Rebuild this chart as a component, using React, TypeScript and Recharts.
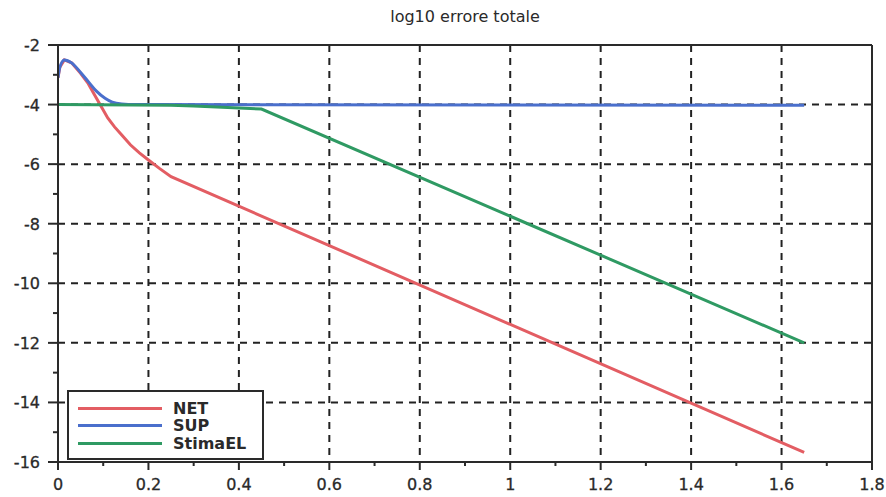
import React from "react";
import { LineChart, Line, XAxis, YAxis, CartesianGrid, ReferenceLine } from "recharts";

const netX = [0, 0.004, 0.014, 0.03, 0.05, 0.067, 0.08, 0.093, 0.11, 0.125, 0.141, 0.16, 0.18, 0.2, 0.225, 0.25, 1.65];
const netY = [-3.1, -2.75, -2.5, -2.6, -2.95, -3.3, -3.65, -4.0, -4.45, -4.75, -5.02, -5.35, -5.62, -5.86, -6.15, -6.42, -15.68];

const supX = [0, 0.004, 0.014, 0.03, 0.05, 0.067, 0.085, 0.104, 0.12, 0.141, 0.17, 0.2, 1.65];
const supY = [-3.1, -2.75, -2.5, -2.6, -2.92, -3.23, -3.55, -3.79, -3.92, -3.98, -4.0, -4.0, -4.02];

const elX = [0, 0.25, 0.3, 0.45, 1.65];
const elY = [-4.0, -4.02, -4.05, -4.15, -12.0];

const xTicksAll = [0, 0.1, 0.2, 0.3, 0.4, 0.5, 0.6, 0.7, 0.8, 0.9, 1, 1.1, 1.2, 1.3, 1.4, 1.5, 1.6, 1.7, 1.8];
const xGrid = [0.2, 0.4, 0.6, 0.8, 1, 1.2, 1.4, 1.6];
const yTicksAll = [-16, -15, -14, -13, -12, -11, -10, -9, -8, -7, -6, -5, -4, -3, -2];
const yGrid = [-14, -12, -10, -8, -6, -4];

const seriesNames = ["NET", "SUP", "StimaEL"];
const seriesColors = ["#e35d63", "#4a6fcc", "#2f9a63"];

const toPts = (xs: number[], ys: number[]) => xs.map((x, i) => ({ x, y: ys[i] }));
const netData = toPts(netX, netY);
const supData = toPts(supX, supY);
const elData = toPts(elX, elY);

const AX = "#2a2a2a";
const FONT = "'DejaVu Sans', sans-serif";

const XTick = (props: any) => {
  const { x, y, payload } = props;
  const v = payload.value;
  const major = Math.round(v * 10) % 2 === 0;
  return (
    <g>
      <line x1={x} x2={x} y1={y} y2={y + (major ? 8 : 4)} stroke={AX} strokeWidth={2} />
      {major && (
        <text x={x} y={y + 28} textAnchor="middle" fontSize={16} fontFamily={FONT} fill={AX} stroke={AX} strokeWidth={0.3}>
          {String(v)}
        </text>
      )}
    </g>
  );
};

const YTick = (props: any) => {
  const { x, y, payload } = props;
  const v = payload.value;
  const major = Math.round(v) % 2 === 0;
  return (
    <g>
      <line x1={x} x2={x - (major ? 10 : 5)} y1={y} y2={y} stroke={AX} strokeWidth={2} />
      {major && (
        <text x={x - 18} y={y + 6} textAnchor="end" fontSize={16} fontFamily={FONT} fill={AX} stroke={AX} strokeWidth={0.3}>
          {String(v)}
        </text>
      )}
    </g>
  );
};

export default function App() {
  return (
    <div style={{ position: "absolute", left: 0, top: 0, width: 886, height: 497, background: "#fff" }}>
      <div
        style={{
          position: "absolute",
          left: 58,
          width: 814,
          top: 7,
          textAlign: "center",
          fontFamily: FONT,
          fontSize: 16,
          color: AX,
        }}
      >
        log10 errore totale
      </div>
      <LineChart width={886} height={497} data={netData} margin={{ top: 45, right: 14, left: 0, bottom: 0 }}>
        <XAxis xAxisId="g" type="number" dataKey="x" domain={[0, 1.8]} ticks={xGrid} hide allowDataOverflow />
        <YAxis yAxisId="g" type="number" domain={[-16, -2]} ticks={yGrid} hide allowDataOverflow />
        <CartesianGrid xAxisId="g" yAxisId="g" stroke="#222" strokeWidth={2} strokeDasharray="7 6" />
        <XAxis
          type="number"
          dataKey="x"
          domain={[0, 1.8]}
          ticks={xTicksAll}
          interval={0}
          height={35}
          tickLine={false}
          tickSize={0}
          tickMargin={0}
          axisLine={{ stroke: AX, strokeWidth: 2 }}
          tick={(p: any) => <XTick {...p} />}
          allowDataOverflow
        />
        <YAxis
          type="number"
          domain={[-16, -2]}
          ticks={yTicksAll}
          interval={0}
          width={58}
          tickLine={false}
          tickSize={0}
          tickMargin={0}
          axisLine={{ stroke: AX, strokeWidth: 2 }}
          tick={(p: any) => <YTick {...p} />}
          allowDataOverflow
        />
        <ReferenceLine y={-2} stroke={AX} strokeWidth={2} />
        <ReferenceLine x={1.8} stroke={AX} strokeWidth={2} />
        <Line data={netData} dataKey="y" type="linear" stroke={seriesColors[0]} strokeWidth={3} dot={false} isAnimationActive={false} />
        <Line data={supData} dataKey="y" type="monotone" stroke={seriesColors[1]} strokeWidth={3} dot={false} isAnimationActive={false} />
        <Line data={elData} dataKey="y" type="linear" stroke={seriesColors[2]} strokeWidth={3} dot={false} isAnimationActive={false} />
      </LineChart>
      <div
        style={{
          position: "absolute",
          left: 67,
          top: 390,
          width: 193,
          height: 66,
          border: `2px solid ${AX}`,
          background: "#fff",
          fontFamily: FONT,
          fontWeight: "bold",
          fontSize: 16,
          color: AX,
        }}
      >
        {seriesNames.map((n, i) => (
          <div key={n} style={{ position: "absolute", left: 9, top: 8 + i * 17.3, height: 17, display: "flex", alignItems: "center" }}>
            <div style={{ width: 84, height: 3, background: seriesColors[i] }} />
            <span style={{ marginLeft: 11, lineHeight: "17px" }}>{n}</span>
          </div>
        ))}
      </div>
    </div>
  );
}
